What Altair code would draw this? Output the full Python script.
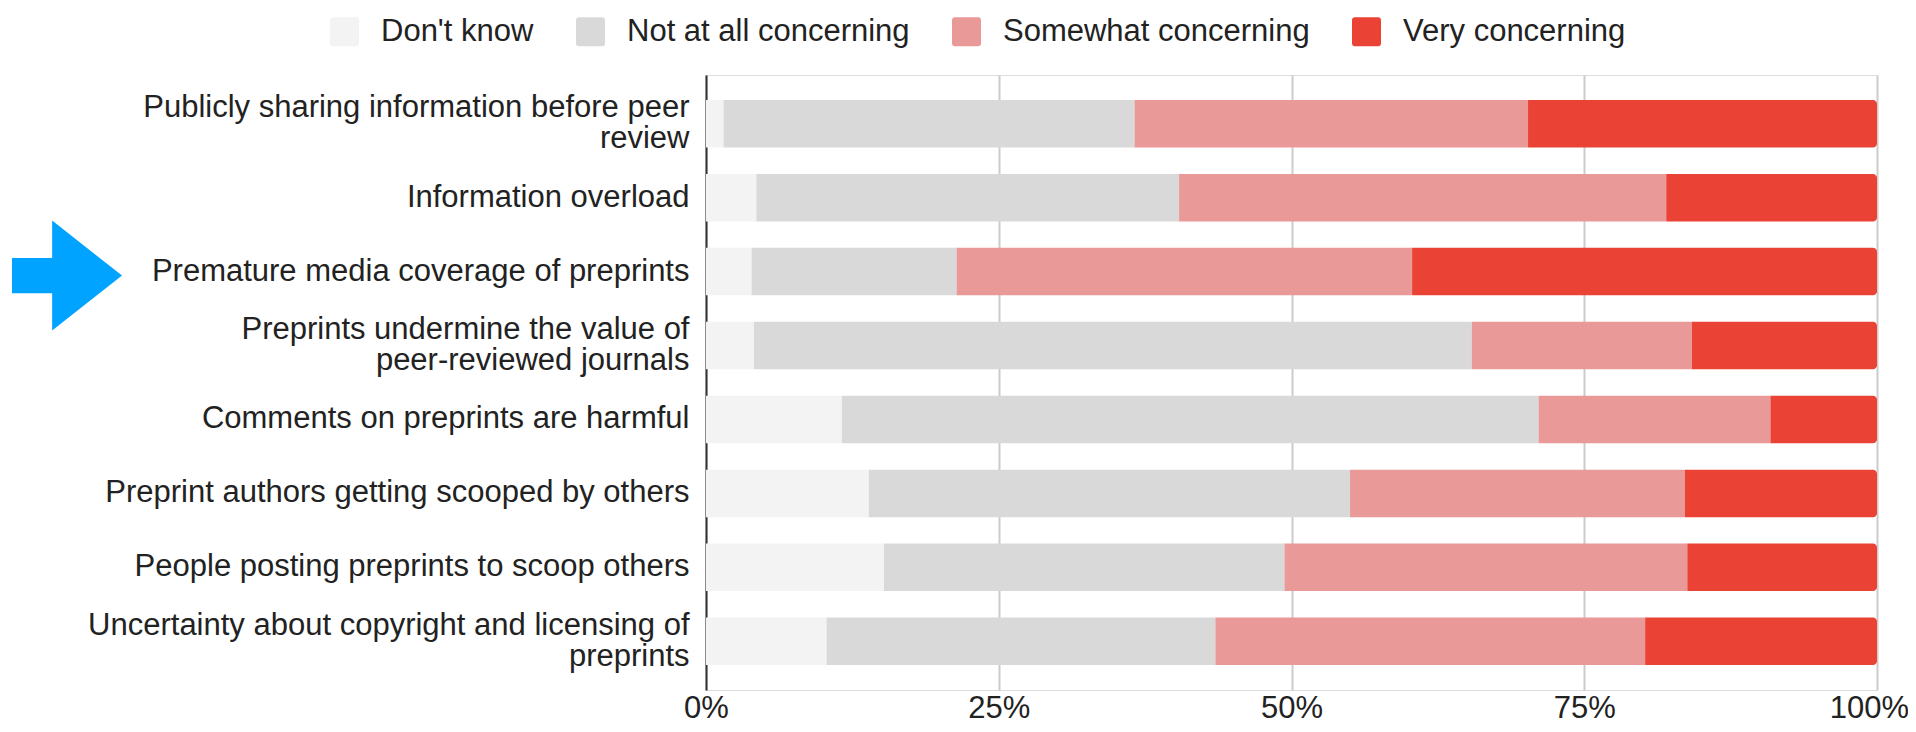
import altair as alt
import pandas as pd

categories = [
    "Publicly sharing information before peer review",
    "Information overload",
    "Premature media coverage of preprints",
    "Preprints undermine the value of peer-reviewed journals",
    "Comments on preprints are harmful",
    "Preprint authors getting scooped by others",
    "People posting preprints to scoop others",
    "Uncertainty about copyright and licensing of preprints",
]
responses = ["Don't know", "Not at all concerning", "Somewhat concerning", "Very concerning"]
colors = ["#f3f3f3", "#d9d9d9", "#ea9999", "#ea4335"]

dont_know = [1.5, 4.3, 3.9, 4.1, 11.6, 13.9, 15.2, 10.3]
not_at_all = [35.1, 36.1, 17.5, 61.3, 59.5, 41.1, 34.2, 33.2]
somewhat = [33.6, 41.6, 38.9, 18.8, 19.8, 28.6, 34.4, 36.7]
very = [29.8, 18.0, 39.7, 15.8, 9.1, 16.4, 16.2, 19.8]

tick_values = [0, 25, 50, 75, 100]
highlight = "Premature media coverage of preprints"

# wrapped label lines
wrapped = {
    "Publicly sharing information before peer review": ["Publicly sharing information before peer", "review"],
    "Preprints undermine the value of peer-reviewed journals": ["Preprints undermine the value of", "peer-reviewed journals"],
    "Uncertainty about copyright and licensing of preprints": ["Uncertainty about copyright and licensing of", "preprints"],
}

rows = []
series = [dont_know, not_at_all, somewhat, very]
for ri, (resp, vals) in enumerate(zip(responses, series)):
    for cat, v in zip(categories, vals):
        rows.append({"category": cat, "response": resp, "value": v, "order": ri})
df = pd.DataFrame(rows)

label_expr = "datum.value"
for k, lines in wrapped.items():
    arr = "[" + ",".join("'" + l + "'" for l in lines) + "]"
    label_expr = f"datum.value == '{k}' ? {arr} : (" + label_expr + ")"

wrapped_list = "[" + ",".join("'" + k + "'" for k in wrapped) + "]"

FONT = "Liberation Sans"
FS = 31
LINE_H = 31

y_enc = alt.Y(
    "category:N",
    sort=categories,
    scale=alt.Scale(paddingInner=0.358, paddingOuter=0.338),
    axis=alt.Axis(
        title=None,
        labelExpr=label_expr,
        labelFontSize=FS,
        labelColor="#222222",
        labelPadding=17,
        labelLimit=0,
        labelLineHeight=LINE_H,
        labelOffset={
            "condition": {"test": f"indexof({wrapped_list}, datum.value) >= 0", "value": -LINE_H / 2},
            "value": 0,
        },
        ticks=False,
        domain=True,
        domainColor="#333333",
        domainWidth=2,
        grid=False,
        zindex=0,
    ),
)

x_enc = alt.X(
    "x0:Q",
    scale=alt.Scale(domain=[0, 100], nice=False),
    axis=alt.Axis(
        title=None,
        values=tick_values,
        labelExpr="datum.value + '%'",
        labelFontSize=FS,
        labelColor="#222222",
        labelPadding=3,
        labelFlush=False,
        labelOffset={"condition": {"test": "datum.value == 100", "value": -8}, "value": 0},
        ticks=False,
        domain=False,
        grid=True,
        gridColor="#cccccc",
        gridWidth=2,
        zindex=0,
    ),
)

rounded_square = "M -0.8 -1 L 0.8 -1 Q 1 -1 1 -0.8 L 1 0.8 Q 1 1 0.8 1 L -0.8 1 Q -1 1 -1 0.8 L -1 -0.8 Q -1 -1 -0.8 -1 Z"

color_enc = alt.Color(
    "response:N",
    scale=alt.Scale(domain=responses, range=colors),
    legend=alt.Legend(
        title=None,
        orient="none",
        legendX=-377,
        legendY=-59,
        direction="horizontal",
        labelFontSize=FS,
        labelColor="#222222",
        symbolType=rounded_square,
        symbolSize=841,
        symbolStrokeWidth=0,
        symbolOpacity=1,
        labelOffset=21,
        columnPadding=41,
        padding=0,
        labelLimit=0,
    ),
)

base = alt.Chart(df).transform_stack(
    stack="value",
    groupby=["category"],
    as_=["x0", "x1"],
    sort=[alt.SortField("order", order="ascending")],
)

bars = base.transform_filter(alt.datum.response != "Very concerning").mark_bar(opacity=1).encode(
    y=y_enc, x=x_enc, x2="x1:Q", color=color_enc
)
bars_end = base.transform_filter(alt.datum.response == "Very concerning").mark_bar(
    opacity=1, cornerRadiusTopRight=4, cornerRadiusBottomRight=4
).encode(y=y_enc, x=x_enc, x2="x1:Q", color=color_enc)

arrow_path = "M -1 -0.32 L -0.27 -0.32 L -0.27 -1 L 1 0 L -0.27 1 L -0.27 0.32 L -1 0.32 Z"
arrow = alt.Chart(pd.DataFrame({"category": [highlight]})).mark_point(
    shape=arrow_path, filled=True, color="#00a3ff", size=12100, opacity=1, strokeWidth=0, yOffset=4
).encode(
    y=alt.Y("category:N", sort=categories),
    x=alt.value(-639),
)

chart = (
    alt.layer(bars, bars_end, arrow)
    .properties(
        width=1171,
        height=615,
        autosize=alt.AutoSizeParams(type="none"),
        padding={"left": 698, "top": 67, "right": 31, "bottom": 34},
        background="white",
    )
    .configure_view(stroke=None)
    .configure(font=FONT)
)

chart.save("out.html", embed_options={"renderer": "svg", "actions": False})
